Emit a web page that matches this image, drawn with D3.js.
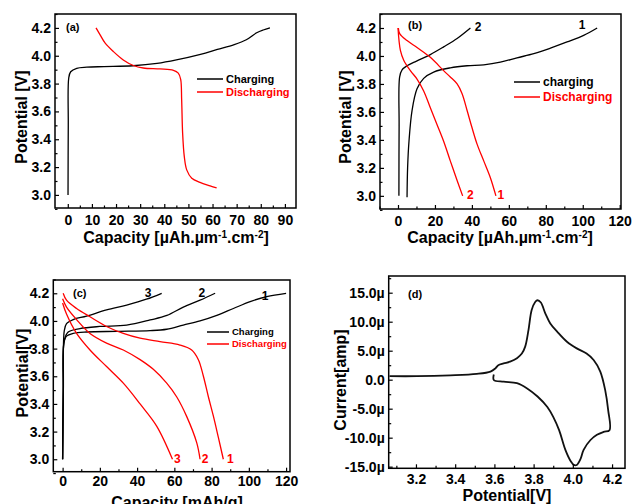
<!DOCTYPE html>
<html>
<head>
<meta charset="utf-8">
<script src="https://cdn.jsdelivr.net/npm/d3@7"></script>
<style>
  body { margin: 0; background: #fff; }
  svg { display: block; font-family: "Liberation Sans", Arial, sans-serif; font-weight: bold; }
</style>
</head>
<body>
<svg id="chart" width="634" height="504"></svg>
<script>
// ---- data: [capacity, potential] ----
const aCharge = [[0.1,3.0],[0.2,3.5],[0.4,3.84],[1.2,3.885],[3.7,3.91],[7.9,3.918],[15,3.922],[27,3.928],[37,3.945],[45,3.97],[55,4.01],[62,4.045],[69,4.08],[74,4.115],[78.3,4.165],[81,4.185],[83.8,4.2]];
const aDischarge = [[11.7,4.2],[13.4,4.15],[15.5,4.09],[18.9,4.03],[23,3.97],[27.2,3.93],[31.3,3.912],[38.2,3.905],[43.8,3.895],[45.8,3.875],[46.8,3.83],[47.2,3.685],[47.6,3.445],[48.3,3.275],[49.3,3.18],[51.4,3.12],[54.8,3.09],[59,3.065],[61.7,3.05]];

const bCharge1 = [[4.9,2.99],[5.2,3.2],[5.95,3.39],[7.6,3.61],[10.3,3.765],[13.9,3.84],[19.3,3.885],[28.3,3.915],[37.4,3.93],[46.4,3.937],[55.4,3.956],[64.4,3.987],[73.5,4.016],[82.5,4.056],[91.5,4.1],[100.5,4.147],[107.8,4.2]];
const bCharge2 = [[0.5,3.0],[0.6,3.5],[0.9,3.85],[2.2,3.9],[4.9,3.93],[10.3,3.965],[17.5,4.01],[24.7,4.065],[32,4.125],[39.2,4.2]];
const bDischarge1 = [[0.2,4.2],[0.9,4.16],[4.9,4.11],[10.3,4.06],[17.5,3.99],[24.7,3.895],[28.3,3.85],[32,3.8],[34.7,3.73],[37.4,3.61],[40,3.49],[42.8,3.37],[46.4,3.25],[50,3.13],[53,3.0]];
const bDischarge2 = [[0,4.2],[1.3,4.04],[3.1,3.97],[6.7,3.895],[10.3,3.835],[13.9,3.75],[17.5,3.63],[21.1,3.51],[24.7,3.39],[28.3,3.25],[32,3.11],[35,3.0]];

const cCharge1 = [[0,3.0],[0.3,3.5],[0.7,3.84],[2.1,3.89],[5.7,3.91],[12.9,3.92],[29,3.925],[47,3.93],[55.9,3.94],[64.8,3.97],[73.8,4.0],[82.8,4.04],[91.7,4.09],[100.7,4.14],[109.6,4.176],[120,4.2]];
const cCharge2 = [[0,3.0],[0.4,3.5],[0.9,3.86],[3,3.92],[9.3,3.945],[20,3.96],[34.4,3.97],[47,4.007],[56,4.04],[64.8,4.1],[73.8,4.15],[81.9,4.2]];
const cCharge3 = [[0,3.0],[0.4,3.5],[0.9,3.93],[2.1,3.98],[5.7,4.01],[12.9,4.035],[23.6,4.08],[34.4,4.115],[45,4.157],[53.2,4.2]];
const cDischarge1 = [[0.3,4.2],[2.1,4.15],[7.5,4.09],[14.7,4.03],[23.6,3.96],[32.6,3.91],[41.6,3.875],[52.3,3.85],[63,3.826],[69.3,3.79],[72.9,3.72],[75.6,3.6],[78.3,3.45],[81,3.31],[83.6,3.16],[86.3,3.0]];
const cDischarge2 = [[0,4.16],[2.1,4.1],[7.5,4.01],[14.7,3.91],[23.6,3.84],[32.6,3.79],[41.6,3.72],[48.7,3.65],[55.9,3.55],[61.3,3.45],[66.6,3.31],[72,3.12],[73.8,3.0]];
const cDischarge3 = [[0,4.13],[2.1,4.05],[7.5,3.91],[14.7,3.79],[23.6,3.67],[32.6,3.55],[41.6,3.4],[50.5,3.24],[59,3.0]];

// CV loop: [potential V, current µA]
const dCV = [[3.065,0.6],[3.205,0.6],[3.375,0.75],[3.51,1.0],[3.58,1.4],[3.605,1.95],[3.62,2.5],[3.647,2.8],[3.68,3.1],[3.715,3.7],[3.74,4.5],[3.757,5.7],[3.774,8.6],[3.79,12],[3.808,13.4],[3.82,13.7],[3.837,13.3],[3.86,11.4],[3.885,9.7],[3.92,8.3],[3.97,6.55],[4.02,5.4],[4.07,4.5],[4.106,3.4],[4.14,1.4],[4.165,-1.8],[4.18,-5.2],[4.187,-8.7],[4.157,-9],[4.123,-9.5],[4.09,-10.4],[4.055,-12.1],[4.04,-13.6],[4.02,-14.7],[4.005,-14.7],[3.99,-14.1],[3.962,-12.1],[3.93,-8.7],[3.9,-6.4],[3.87,-4.7],[3.82,-2.9],[3.767,-1.5],[3.715,-0.6],[3.647,-0.35],[3.597,-0.05],[3.597,0.9]];

const vTicks = [3.0, 3.2, 3.4, 3.6, 3.8, 4.0, 4.2];
const aCapTicks = [0, 10, 20, 30, 40, 50, 60, 70, 80, 90];
const bCapTicks = [0, 20, 40, 60, 80, 100, 120];
const dPotTicks = [3.2, 3.4, 3.6, 3.8, 4.0, 4.2];
const dCurTicks = [-15, -10, -5, 0, 5, 10, 15];

const svg = d3.select('#chart');
const RED = '#ff0000';
const line = (x, y) => d3.line().x(d => x(d[0])).y(d => y(d[1])).curve(d3.curveCatmullRom.alpha(0.5));
const f1 = d3.format('.1f');

const drawPanel = (p) => {
	const x = d3.scaleLinear().domain(p.xDomain).range([p.left, p.right]);
	const y = d3.scaleLinear().domain(p.yDomain).range([p.bottom, p.top]);
	const g = svg.append('g');

	p.series.forEach((s) => {
		g.append('path')
			.datum(s.data)
			.attr('d', line(x, y))
			.attr('fill', 'none')
			.attr('stroke', s.color)
			.attr('stroke-width', s.width || 1.3)
			.attr('stroke-linejoin', 'round');
	});

	g.append('rect')
		.attr('x', p.left).attr('y', p.top)
		.attr('width', p.right - p.left).attr('height', p.bottom - p.top)
		.attr('fill', 'none').attr('stroke', '#000').attr('stroke-width', 1.5);

	// major + minor inward ticks
	const xAxis = d3.axisBottom(x).tickValues(p.xTicks).tickSize(-4).tickPadding(p.xPad).tickFormat(p.xFormat);
	const xMinor = d3.axisBottom(x).tickValues(p.xMinor).tickSize(-2.5).tickFormat('');
	const yAxis = d3.axisLeft(y).tickValues(p.yTicks).tickSize(-4).tickPadding(4).tickFormat(p.yFormat);
	const yMinor = d3.axisLeft(y).tickValues(p.yMinor).tickSize(-2.5).tickFormat('');

	const clean = (a) => {
		a.attr('font-size', null).attr('font-family', null);
		a.select('.domain').remove();
		a.selectAll('line').attr('stroke-width', 1.2);
		a.selectAll('text').style('font-size', '14px').style('font-weight', 'bold');
	};
	g.append('g').attr('transform', `translate(0,${p.bottom})`).call(xAxis).call(clean);
	g.append('g').attr('transform', `translate(0,${p.bottom})`).call(xMinor).call(clean);
	g.append('g').attr('transform', `translate(${p.left},0)`).call(yAxis).call(clean);
	g.append('g').attr('transform', `translate(${p.left},0)`).call(yMinor).call(clean);

	// panel letter
	g.append('text').attr('x', p.tag[0]).attr('y', p.tag[1]).attr('dy', '0.35em')
		.style('font-size', '11px').text(p.tag[2]);

	// axis titles
	const xt = g.append('text').attr('x', p.xTitle[0]).attr('y', p.xTitle[1])
		.attr('text-anchor', 'middle').style('font-size', '16px');
	p.xTitle[2].forEach((part) => {
		const t = xt.append('tspan').text(part.t);
		if (part.sup) t.attr('dy', -5).style('font-size', '10px');
		else if (part.down) t.attr('dy', 5);
	});
	g.append('text')
		.attr('transform', `translate(${p.yTitle[0]},${p.yTitle[1]}) rotate(-90)`)
		.attr('text-anchor', 'middle').attr('dy', '0.35em')
		.style('font-size', '16px').text(p.yTitle[2]);

	// legend
	if (p.legend) {
		const L = p.legend;
		L.items.forEach((it, i) => {
			const ly = L.y + i * L.step;
			g.append('line').attr('x1', L.x).attr('x2', L.x + L.len).attr('y1', ly).attr('y2', ly)
				.attr('stroke', it.color).attr('stroke-width', 1.5);
			g.append('text').attr('x', L.x + L.len + 3).attr('y', ly).attr('dy', '0.35em')
				.attr('fill', it.color).style('font-size', L.size + 'px').text(it.label);
		});
	}

	// curve numbers
	(p.labels || []).forEach((l) => {
		g.append('text').attr('x', x(l[0])).attr('y', y(l[1])).attr('dy', '0.35em')
			.attr('text-anchor', 'middle').attr('fill', l[3]).style('font-size', '12px').text(l[2]);
	});
};

const capTitle = [{ t: 'Capacity [µAh.µm' }, { t: '-1', sup: true }, { t: '.cm', down: true }, { t: '-2', sup: true }, { t: ']', down: true }];
const minorV = [2.9, 3.1, 3.3, 3.5, 3.7, 3.9, 4.1, 4.3];

drawPanel({
	left: 55, right: 296, top: 14, bottom: 208,
	xDomain: [-5.3, 94.6], yDomain: [2.906, 4.3],
	xTicks: aCapTicks, xMinor: [5, 15, 25, 35, 45, 55, 65, 75, 85], xPad: 7, xFormat: d3.format('d'),
	yTicks: vTicks, yMinor: minorV, yFormat: f1,
	tag: [66, 27, '(a)'],
	xTitle: [176, 243, capTitle],
	yTitle: [21, 117, 'Potential [V]'],
	legend: { x: 197, y: 79, step: 13, len: 26, size: 11, items: [{ color: '#000', label: 'Charging' }, { color: RED, label: 'Discharging' }] },
	series: [{ data: aCharge, color: '#000' }, { data: aDischarge, color: RED }],
});

drawPanel({
	left: 380, right: 621, top: 14, bottom: 209,
	xDomain: [-9.74, 120.7], yDomain: [2.906, 4.3],
	xTicks: bCapTicks, xMinor: [-10, 10, 30, 50, 70, 90, 110], xPad: 7, xFormat: d3.format('d'),
	yTicks: vTicks, yMinor: minorV, yFormat: f1,
	tag: [408, 25, '(b)'],
	xTitle: [500, 243, capTitle],
	yTitle: [345, 117, 'Potential [V]'],
	legend: { x: 514, y: 82, step: 15, len: 26, size: 12, items: [{ color: '#000', label: 'charging' }, { color: RED, label: 'Discharging' }] },
	series: [
		{ data: bCharge1, color: '#000' }, { data: bCharge2, color: '#000' },
		{ data: bDischarge1, color: RED }, { data: bDischarge2, color: RED },
	],
	labels: [[99.6, 4.222, '1', '#000'], [43.3, 4.205, '2', '#000'], [39.2, 3.01, '2', RED], [55.7, 3.01, '1', RED]],
});

drawPanel({
	left: 53.3, right: 290, top: 280, bottom: 471.7,
	xDomain: [-5.0, 122.1], yDomain: [2.91, 4.296],
	xTicks: bCapTicks, xMinor: [10, 30, 50, 70, 90, 110], xPad: 4.5, xFormat: d3.format('d'),
	yTicks: vTicks, yMinor: minorV, yFormat: f1,
	tag: [73, 293, '(c)'],
	xTitle: [177, 508, [{ t: 'Capacity [mAh/g]' }]],
	yTitle: [22, 373, 'Potential[V]'],
	legend: { x: 207, y: 332, step: 12, len: 22, size: 9.5, items: [{ color: '#000', label: 'Charging' }, { color: RED, label: 'Discharging' }] },
	series: [
		{ data: cCharge1, color: '#000' }, { data: cCharge2, color: '#000' }, { data: cCharge3, color: '#000' },
		{ data: cDischarge1, color: RED }, { data: cDischarge2, color: RED }, { data: cDischarge3, color: RED },
	],
	labels: [[108.7, 4.18, '1', '#000'], [74.7, 4.2, '2', '#000'], [45.9, 4.2, '3', '#000'],
		[90, 3.0, '1', RED], [76.5, 3.0, '2', RED], [61.6, 3.0, '3', RED]],
});

drawPanel({
	left: 388.7, right: 625, top: 276, bottom: 468.3,
	xDomain: [3.061, 4.266], yDomain: [-15.28, 17.88],
	xTicks: dPotTicks, xMinor: [3.1, 3.3, 3.5, 3.7, 3.9, 4.1], xPad: 6, xFormat: f1,
	yTicks: dCurTicks, yMinor: [-12.5, -7.5, -2.5, 2.5, 7.5, 12.5, 17.5],
	yFormat: (v) => (v === 0 ? '0.0' : v.toFixed(1) + 'µ'),
	tag: [408, 294, '(d)'],
	xTitle: [507, 501, [{ t: 'Potential[V]' }]],
	yTitle: [340, 380, 'Current[amp]'],
	series: [{ data: dCV, color: '#111', width: 1.8 }],
});
</script>
</body>
</html>
